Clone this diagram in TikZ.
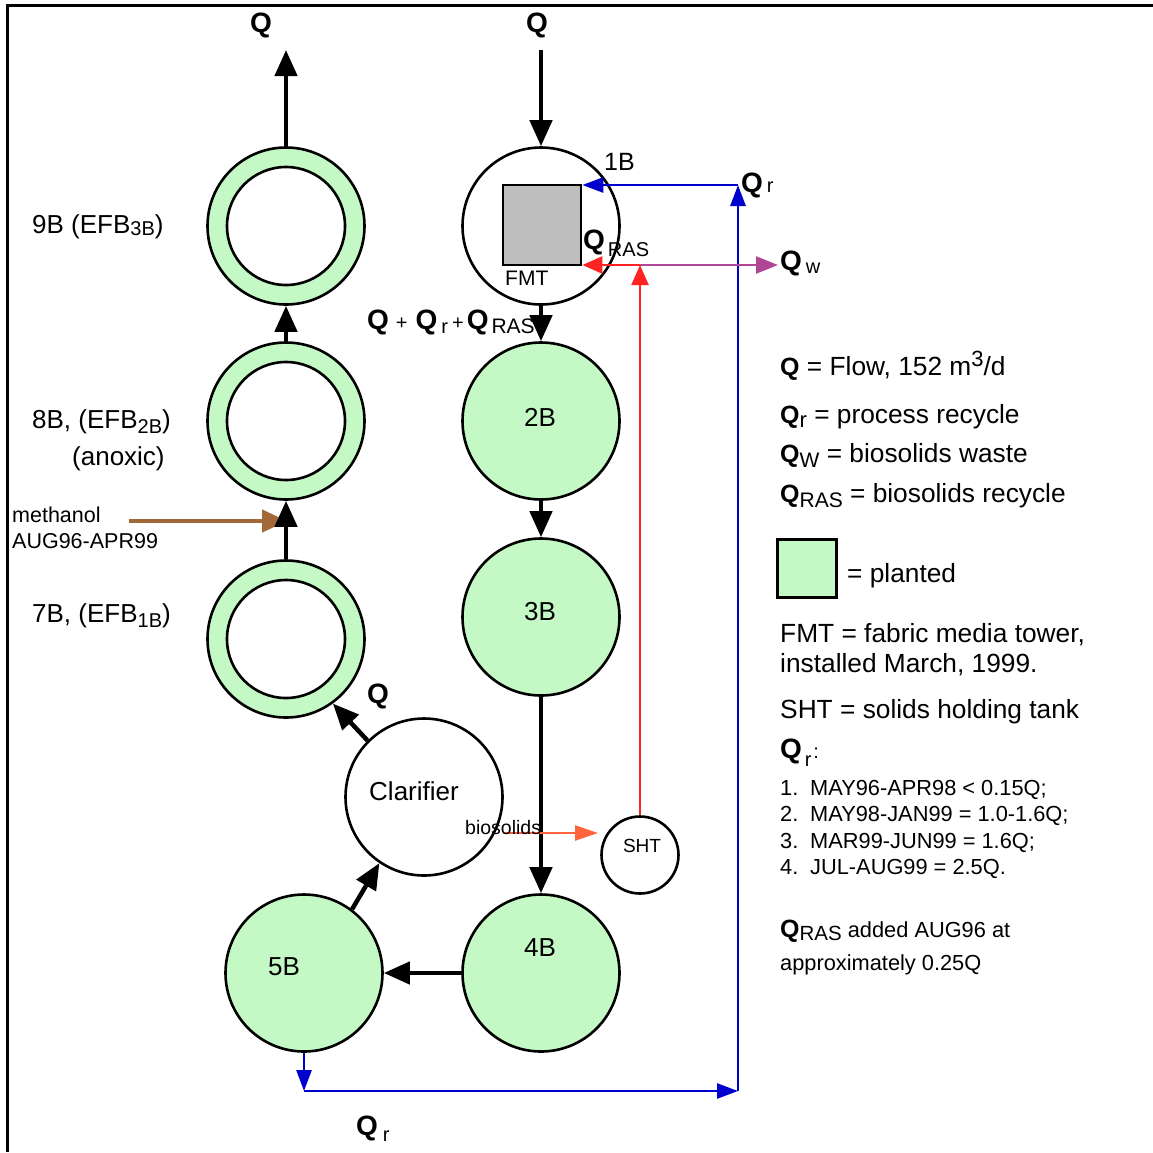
\documentclass[tikz,border=0pt]{standalone}
\usepackage{fontspec}
\setmainfont{Liberation Sans}
\usetikzlibrary{arrows.meta}
\definecolor{plant}{RGB}{196,248,196}
\definecolor{fmtgray}{RGB}{190,190,190}
\definecolor{qblue}{RGB}{0,0,205}
\definecolor{qred}{RGB}{255,36,36}
\definecolor{qpurple}{RGB}{176,70,150}
\definecolor{qorange}{RGB}{255,100,60}
\definecolor{meth}{RGB}{160,105,55}
\newcommand\fsz[1]{\fontsize{#1}{#1}\selectfont}
\newcommand\sbs[3]{\raisebox{-#1pt}{\fsz{#2}#3}}
\newcommand\qbig{{\bfseries\fsz{28}Q}}
\newcommand\qleg{{\bfseries\fsz{25}Q}}
\begin{document}
\begin{tikzpicture}[x=1pt,y=-1pt,
  tank/.style={circle,draw,line width=2.6pt,minimum size=157pt,inner sep=0pt,fill=white},
  planted/.style={tank,fill=plant},
  ringcore/.style={circle,draw,line width=2.6pt,minimum size=118pt,inner sep=0pt,fill=white},
  flow/.style={line width=4.5pt,-{Triangle[length=26pt,width=22pt]}},
  bflow/.style={draw=qblue,line width=2.6pt,-{Triangle[length=21pt,width=15pt]}},
  rflow/.style={draw=qred,line width=2.4pt,-{Triangle[length=20pt,width=17pt]}},
  pflow/.style={draw=qpurple,line width=2.4pt,-{Triangle[length=22pt,width=17pt]}},
  oflow/.style={draw=qorange,line width=2.4pt,-{Triangle[length=23pt,width=15pt]}},
  mflow/.style={draw=meth,line width=4.5pt,-{Triangle[length=25pt,width=22pt]}},
  big/.style={inner sep=0pt,font=\fsz{26}},
  txt/.style={inner sep=0pt,anchor=base west},
]
\useasboundingbox (0,0) rectangle (1153,1152);
% frame
\draw[line width=3pt] (1153,5) -- (7,5) -- (7,1152);

% left column rings
\node[planted] (n9) at (286,226) {};
\node[ringcore] (n9i) at (286,226) {};
\node[planted] (n8) at (286,421) {};
\node[ringcore] (n8i) at (286,421) {};
\node[planted] (n7) at (286,639) {};
\node[ringcore] (n7i) at (286,639) {};

% right column
\node[tank] (n1) at (541,226) {};
\node[draw,line width=2.6pt,fill=fmtgray,minimum width=78pt,minimum height=80pt,inner sep=0pt] (fmt) at (542,225) {};
\node[planted] (n2) at (541,421) {};
\node[planted] (n3) at (541,617) {};
\node[planted] (n4) at (541,973) {};
\node[planted] (n5) at (304,973) {};
\node[tank] (clar) at (424,797) {};
\node[circle,draw,line width=2.6pt,minimum size=77pt,inner sep=0pt] (sht) at (640,855) {};

% labels in tanks
\node[big] (t2) at (540,417) {2B};
\node[big] (t3) at (540,612) {3B};
\node[big] (t4) at (540,948) {4B};
\node[big] (t5) at (284,967) {5B};
\node[big] (tc) at (414,791) {Clarifier};
\node[inner sep=0pt,font=\fsz{19}] (ts) at (642,846) {SHT};
\node[txt,font=\fsz{25}] (t1b) at (604,170) {1B};
\node[txt,font=\fsz{21}] (tfmt) at (505,285) {FMT};

% methanol
\coordinate (ms) at (129,521);
\coordinate (me) at (287,521);
\draw[mflow] (ms) -- (me);

% main flow
\coordinate (qa) at (541,50);
\coordinate (qb) at (286,50);
\draw[flow] (qa) -- (n1);
\draw[flow] (n9) -- (qb);
\draw[flow] (n8) -- (n9);
\draw[flow] (n7) -- (n8);
\draw[flow] (n1) -- (n2);
\draw[flow] (n2) -- (n3);
\draw[flow] (n3) -- (n4);
\draw[flow] (n4) -- (n5);
\draw[flow] (n5.53) -- (clar.-124);
\draw[flow] (clar.135) -- (n7.-54);

% blue recycle
\coordinate (b1) at (304,1091);
\coordinate (b2) at (738,1091);
\coordinate (b3) at (738,185);
\draw[bflow] (n5) -- (b1);
\draw[bflow] (b1) -- (b2);
\draw[bflow] (b2) -- (b3);
\draw[bflow] (b3) -- (fmt.east |- b3);

% RAS and waste
\coordinate (r1) at (640,265);
\coordinate (w1) at (778,265);
\draw[pflow] (r1) -- (w1);
\draw[rflow] (r1) -- (fmt.east |- r1);
\draw[rflow] (sht) -- (r1);

% biosolids
\coordinate (o1) at (503,833);
\coordinate (o2) at (598,833);
\draw[oflow] (o1) -- (o2);
\node[txt,font=\fsz{19.5}] (tbio) at (465,834) {biosolids};

% flow labels
\node[inner sep=0pt,anchor=base] (tqin) at (537,32) {\qbig};
\node[inner sep=0pt,anchor=base] (tqout) at (261,32) {\qbig};
\node[txt] (tqc) at (367,703) {\qbig};
\node[txt] (tqras) at (583,249) {\qbig\hspace{3pt}\sbs{7}{20}{RAS}};
\node[txt] (tqr) at (741,192) {\qbig\hspace{4pt}{\fsz{20}r}};
\node[txt] (tqw) at (780,270) {\qbig\hspace{4pt}\sbs{3}{20}{w}};
\node[txt] (tqrb) at (356,1135) {\qbig\hspace{5pt}\sbs{6}{20}{r}};
\node[txt] (tsum) at (367,329) {\qbig\hspace{7pt}{\fsz{20}+}\hspace{8pt}\qbig\hspace{4pt}\sbs{4}{20}{r}\hspace{4pt}{\fsz{20}+}\hspace{3pt}\qbig\hspace{3pt}\sbs{4}{21}{RAS}};

% left labels
\node[txt,font=\fsz{26}] (l9) at (32,233) {9B (EFB\sbs{2}{20}{3B})};
\node[txt,font=\fsz{26}] (l8) at (32,428) {8B, (EFB\sbs{5}{20}{2B})};
\node[txt,font=\fsz{26}] (l8b) at (72,465) {(anoxic)};
\node[txt,font=\fsz{21.5}] (lm1) at (12,522) {methanol};
\node[txt,font=\fsz{21.5}] (lm2) at (12,548) {AUG96-APR99};
\node[txt,font=\fsz{26}] (l7) at (32,622) {7B, (EFB\sbs{5}{20}{1B})};

% legend
\node[txt,font=\fsz{26.3}] (g1) at (780,375) {\qleg{} = Flow, 152 m\raisebox{9pt}{\fsz{22}3}/d};
\node[txt,font=\fsz{26.3}] (g2) at (780,423) {\qleg\sbs{4}{22}{r} = process recycle};
\node[txt,font=\fsz{26.3}] (g3) at (780,462) {\qleg\sbs{5}{21}{W} = biosolids waste};
\node[txt,font=\fsz{26.3}] (g4) at (780,502) {\qleg\sbs{5}{21}{RAS} = biosolids recycle};
\node[draw,line width=2.6pt,fill=plant,minimum width=59pt,minimum height=58pt,inner sep=0pt] (gsq) at (807,568.5) {};
\node[txt,font=\fsz{26.3}] (g5) at (847,582) {= planted};
\node[txt,font=\fsz{26.3}] (g6) at (780,642) {FMT = fabric media tower,};
\node[txt,font=\fsz{26.3}] (g7) at (780,672) {installed March, 1999.};
\node[txt,font=\fsz{26.3}] (g8) at (780,718) {SHT = solids holding tank};
\node[txt] (g9) at (780,758) {\qbig\hspace{3pt}\sbs{8}{20}{r}\,{\fsz{20}:}};
\node[txt,font=\fsz{21.8}] (g10) at (780,795) {\makebox[30pt][l]{1.}MAY96-APR98 < 0.15Q;};
\node[txt,font=\fsz{21.8}] (g11) at (780,821) {\makebox[30pt][l]{2.}MAY98-JAN99 = 1.0-1.6Q;};
\node[txt,font=\fsz{21.8}] (g12) at (780,848) {\makebox[30pt][l]{3.}MAR99-JUN99 = 1.6Q;};
\node[txt,font=\fsz{21.8}] (g13) at (780,874) {\makebox[30pt][l]{4.}JUL-AUG99 = 2.5Q.};
\node[txt,font=\fsz{21.8}] (g14) at (780,937) {\qleg\sbs{3}{20.5}{RAS} added AUG96 at};
\node[txt,font=\fsz{21.8}] (g15) at (780,970) {approximately 0.25Q};
\end{tikzpicture}
\end{document}
